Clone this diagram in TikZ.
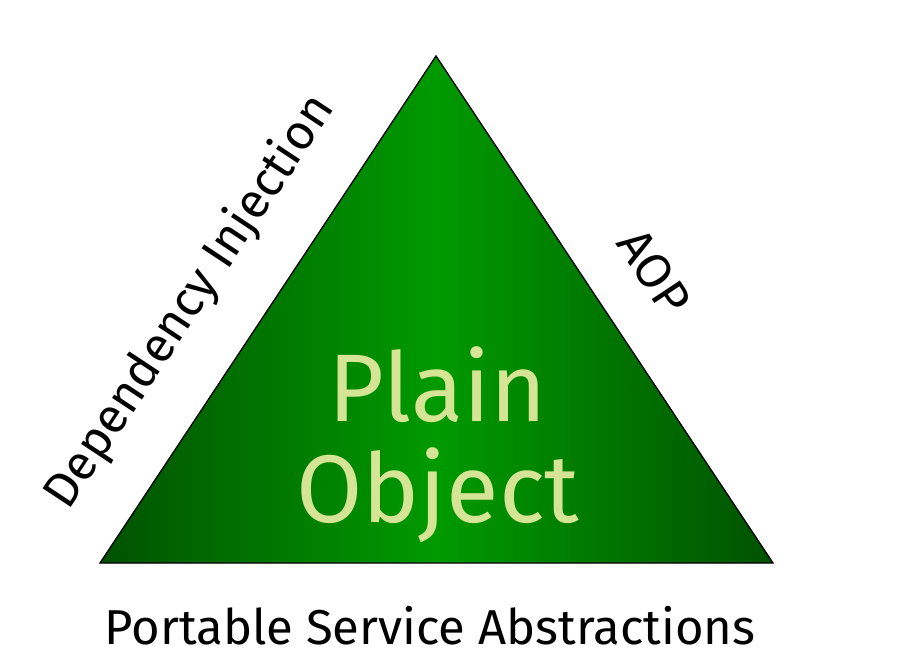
\documentclass[tikz,border=0pt]{standalone}
\usepackage{fontspec}
\setmainfont{Fira Sans}
\definecolor{edgegreen}{HTML}{005200}
\definecolor{midgreen}{HTML}{009A00}
\definecolor{labelgreen}{HTML}{D6E595}
\tikzset{
  sidelabel/.style={font=\fontsize{49}{49}\selectfont, text=black, inner sep=0pt},
  biglabel/.style={font=\fontsize{96}{100}\selectfont, text=labelgreen, inner sep=0pt, align=center},
}
\begin{document}
\begin{tikzpicture}[x=1pt,y=-1pt]
  \useasboundingbox[fill=white] (0,0) rectangle (904,664);
  % triangle corners
  \coordinate (apex) at (436,56);
  \coordinate (bl) at (100,563);
  \coordinate (br) at (773,563);
  % shaded body
  \shade[left color=edgegreen, right color=edgegreen, middle color=midgreen]
    (apex) -- (bl) -- (br) -- cycle;
  \draw[black, line width=1.3pt, line join=miter] (apex) -- (bl) -- (br) -- cycle;
  % labels
  \node[biglabel] (plain) at (438,385) {Plain};
  \node[biglabel] (object) at (438,495) {Object};
  \node[sidelabel, rotate=56.5] (di) at (190,302) {Dependency Injection};
  \node[sidelabel, rotate=-56.5] (aop) at (654,272) {AOP};
  \node[sidelabel] (psa) at (430,626) {Portable Service Abstractions};
\end{tikzpicture}
\end{document}
